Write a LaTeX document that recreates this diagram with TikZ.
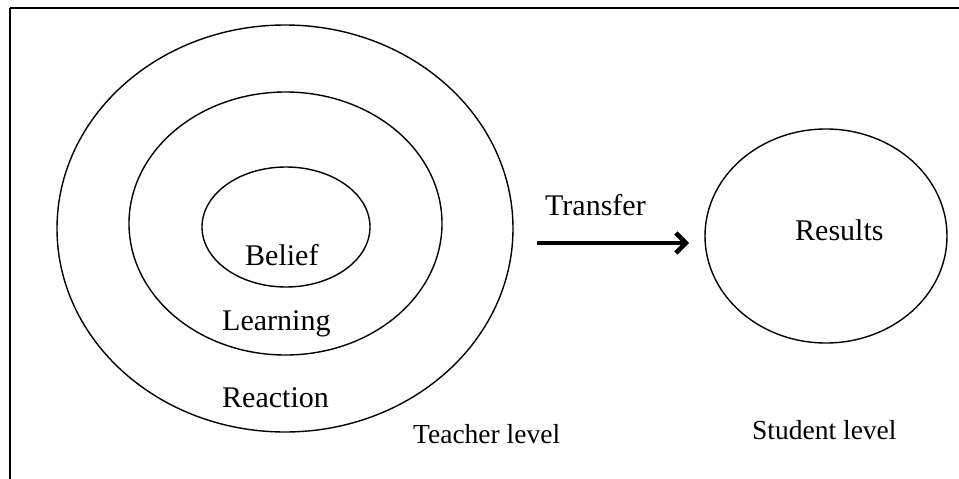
\documentclass[tikz,border=0pt]{standalone}
\usepackage{fontspec}
\setmainfont{Liberation Serif}
\usetikzlibrary{shapes.geometric,arrows.meta}
\begin{document}
\begin{tikzpicture}[x=1pt,y=-1pt,
  ring/.style={draw,ellipse,line width=1.4pt,inner sep=0pt},
  lbl/.style={anchor=base west,inner sep=0pt,font=\fontsize{30}{34}\selectfont},
  lvl/.style={anchor=base west,inner sep=0pt,font=\fontsize{27.5}{32}\selectfont}]
\useasboundingbox (0,0) rectangle (959,479);
\begin{scope}
\clip (0,0) rectangle (959,479);
\draw[line width=2pt] (9.5,8) -- (970,8);
\draw[line width=2pt] (9.5,8) -- (9.5,490);
\end{scope}
\node[ring,minimum width=456pt,minimum height=407pt] (outer) at (285,228.5) {};
\node[ring,minimum width=313pt,minimum height=263pt] (middle) at (285.5,223.5) {};
\node[ring,minimum width=168pt,minimum height=120pt] (inner) at (286,227) {};
\node[ring,minimum width=242pt,minimum height=214pt] (results) at (826,236) {};
\node[lbl] (belief) at (245,265) {Belief};
\node[lbl] (learning) at (222,330) {Learning};
\node[lbl] (reaction) at (222,407) {Reaction};
\node[lbl] (transfer) at (545,215) {Transfer};
\node[lbl] (res) at (795,240) {Results};
\node[lvl] (teacher) at (413,443) {Teacher level};
\node[lvl] (student) at (752,439) {Student level};
\coordinate (a1) at (537,243);
\coordinate (a2) at (689,243);
\draw[line width=4.5pt,-{Straight Barb[length=10pt,width=20pt]}] (a1) -- (a2);
\end{tikzpicture}
\end{document}
